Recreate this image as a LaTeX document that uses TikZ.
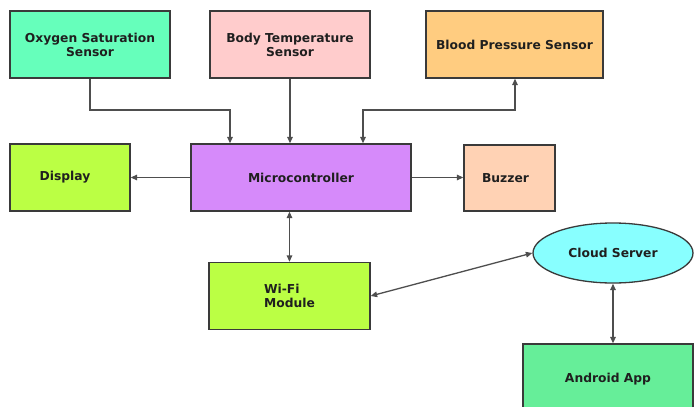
\documentclass[tikz,border=0pt]{standalone}
\usepackage{fontspec}
\setmainfont{DejaVu Sans}
\usetikzlibrary{arrows.meta,shapes.geometric}
\definecolor{oxy}{HTML}{66FFBB}
\definecolor{temp}{HTML}{FFCCCC}
\definecolor{bp}{HTML}{FFCC80}
\definecolor{disp}{HTML}{BBFF44}
\definecolor{mcu}{HTML}{D68AFA}
\definecolor{buzz}{HTML}{FFD2B4}
\definecolor{cloud}{HTML}{88FFFF}
\definecolor{andr}{HTML}{66EE99}
\definecolor{edge}{HTML}{3A3A3A}
\tikzset{
  blk/.style={draw=edge, line width=1.3pt, inner sep=0pt, font=\bfseries\fontsize{12.3}{14}\selectfont, align=center, text=black!88},
  conn/.style={draw=edge!90, line width=1.3pt, -{Triangle[length=6.5pt,width=5.5pt]}},
  bconn/.style={draw=edge!90, line width=1.3pt, {Triangle[length=6.5pt,width=5.5pt]}-{Triangle[length=6.5pt,width=5.5pt]}}
}
\begin{document}
\begin{tikzpicture}[x=1pt,y=-1pt]
\clip (0,0) rectangle (694,407);
\fill[white] (0,0) rectangle (694,407);
\node[blk, fill=oxy, minimum width=160pt, minimum height=67pt] (oxy) at (90,44.5) {Oxygen Saturation\\Sensor};
\node[blk, fill=temp, minimum width=160pt, minimum height=67pt] (temp) at (290,44.5) {Body Temperature\\Sensor};
\node[blk, fill=bp, minimum width=177pt, minimum height=67pt] (bp) at (514.5,44.5) {Blood Pressure Sensor};
\node[blk, fill=disp, minimum width=120pt, minimum height=67pt] (disp) at (70,177.5) {Display\hspace*{10pt}};
\node[blk, fill=mcu, minimum width=220pt, minimum height=67pt] (mcu) at (301,177.5) {Microcontroller};
\node[blk, fill=buzz, minimum width=91pt, minimum height=66pt] (buzz) at (509.5,178) {Buzzer\hspace*{8pt}};
\node[blk, fill=disp, minimum width=161pt, minimum height=67pt, align=left] (wifi) at (289.5,296) {Wi-Fi\\Module};
\node[blk, ellipse, fill=cloud, minimum width=160pt, minimum height=60pt] (cloud) at (613,253) {Cloud Server};
\node[blk, fill=andr, minimum width=170pt, minimum height=70pt] (andr) at (608,379) {Android App};
\coordinate (o1) at (90,110);
\coordinate (o2) at (230,110);
\coordinate (b1) at (363,110);
\coordinate (b2) at (515,110);
\draw[conn] (oxy.south -| o1) -- (o1) -- (o2) -- (o2 |- mcu.north);
\draw[conn] (temp.south) -- (temp.south |- mcu.north);
\draw[bconn] (b1 |- mcu.north) -- (b1) -- (b2) -- (b2 |- bp.south);
\draw[conn] (mcu.west) -- (disp.east);
\draw[conn] (mcu.east) -- (mcu.east -| buzz.west);
\draw[bconn] (wifi.north) -- (wifi.north |- mcu.south);
\draw[bconn] (wifi.east) -- (cloud.west);
\draw[bconn] (cloud.south) -- (cloud.south |- andr.north);
\end{tikzpicture}
\end{document}
